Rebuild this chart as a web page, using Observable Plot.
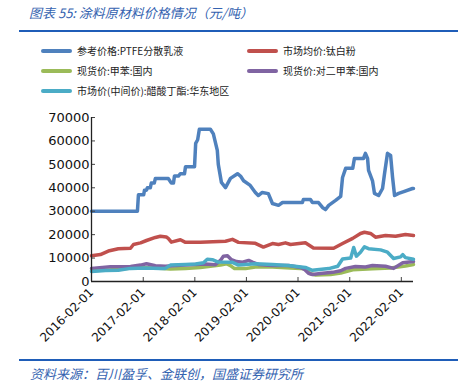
<!DOCTYPE html>
<html><head><meta charset="utf-8">
<script src="https://cdn.jsdelivr.net/npm/d3@7"></script>
<script src="https://cdn.jsdelivr.net/npm/@observablehq/plot@0.6"></script>
<style>
body{margin:0;background:#fff;}
#wrap{position:relative;width:462px;height:392px;overflow:hidden;background:#fff;font-family:"DejaVu Sans","Noto Sans CJK SC",sans-serif;}
.cap{position:absolute;font-family:"Noto Sans CJK SC",sans-serif;font-style:italic;color:#3563B0;font-size:13px;white-space:nowrap;line-height:1;}
.rule{position:absolute;left:19px;width:439px;height:2px;background:#1F5DB8;}
.lg{position:absolute;font-family:"Noto Sans CJK SC",sans-serif;font-size:10px;color:#222;white-space:nowrap;line-height:1;}
.sw{position:absolute;width:31px;height:3.5px;border-radius:2px;}
#chart{position:absolute;left:0;top:100px;}
</style></head>
<body><div id="wrap"><div id="chart"></div></div>
<script>
// ---- data ----
const seriesNames = ["参考价格:PTFE分散乳液","市场均价:钛白粉","现货价:甲苯:国内","现货价:对二甲苯:国内","市场价(中间价):醋酸丁酯:华东地区"];
const seriesColors = ["#4F81BD","#C0504D","#9BBB59","#8064A2","#4BACC6"];
const xTickLabels = ["2016-02-01","2017-02-01","2018-02-01","2019-02-01","2020-02-01","2021-02-01","2022-02-01"];
const yTickValues = [0,10000,20000,30000,40000,50000,60000,70000];
const xDomain = ["2016-02-01","2022-04-28"];

const ptfe = [
["2016-02-01",30000],["2016-12-22",30000],["2016-12-29",37000],["2017-02-04",37000],["2017-02-10",39000],
["2017-02-24",39000],["2017-03-02",40000],["2017-03-23",40000],["2017-03-30",42000],["2017-04-20",42000],
["2017-04-28",44000],["2017-07-28",44000],["2017-08-19",42000],["2017-09-03",42000],["2017-09-10",45000],
["2017-10-08",45000],["2017-10-22",46000],["2017-11-20",46000],["2017-11-27",49000],["2018-01-30",49000],
["2018-02-07",59000],["2018-02-21",60500],["2018-03-05",65000],["2018-05-22",65000],["2018-06-12",63000],
["2018-07-10",56000],["2018-07-17",50000],["2018-08-08",42300],["2018-09-06",40100],["2018-10-11",44000],
["2018-11-30",46000],["2018-12-21",45000],["2019-01-12",43000],["2019-02-28",41000],["2019-04-05",38000],
["2019-04-26",36700],["2019-05-24",38000],["2019-07-06",37500],["2019-08-04",33300],["2019-09-16",32500],
["2019-10-14",33700],["2020-03-03",33700],["2020-03-10",35000],["2020-04-29",35000],["2020-05-13",33700],
["2020-06-25",33700],["2020-07-23",31600],["2020-08-14",30700],["2020-09-05",32500],["2020-10-24",34600],
["2020-11-29",36300],["2020-12-12",44400],["2021-01-03",48300],["2021-02-22",48300],["2021-03-06",52500],
["2021-05-09",52500],["2021-05-23",54700],["2021-06-07",52500],["2021-06-14",47400],["2021-07-12",43000],
["2021-07-26",37600],["2021-08-24",36700],["2021-09-21",39700],["2021-10-05",46000],["2021-10-26",54700],
["2021-11-17",53800],["2021-12-01",44400],["2021-12-15",36700],["2022-01-13",37600],["2022-02-18",38400],
["2022-04-21",39700],["2022-04-28",39700]
];
const titanium = [
["2016-02-01",11000],["2016-04-04",11500],["2016-05-30",13000],["2016-08-09",14000],["2016-11-03",14200],
["2016-11-24",15800],["2017-01-13",16500],["2017-02-24",17500],["2017-04-28",18800],["2017-06-02",19300],
["2017-07-14",19000],["2017-07-28",18400],["2017-08-19",16800],["2017-10-08",17600],["2017-10-22",17800],
["2017-11-27",16700],["2018-03-12",16800],["2018-09-06",17200],["2018-10-25",18000],["2018-12-07",16700],
["2019-04-05",16300],["2019-06-01",14700],["2019-08-04",16200],["2019-09-16",15800],["2019-11-04",16500],
["2019-12-10",15800],["2020-03-24",16500],["2020-05-20",14300],["2020-10-10",14200],["2020-12-12",16200],
["2021-02-22",18400],["2021-04-18",20500],["2021-05-16",21000],["2021-06-28",20500],["2021-08-02",18900],
["2021-10-12",19600],["2021-12-22",19300],["2022-03-02",20100],["2022-04-28",19600]
];
const toluene = [
["2016-02-01",4600],["2016-06-14",5000],["2016-09-28",5600],["2017-01-13",6000],["2017-04-28",5800],
["2017-08-12",5300],["2017-11-27",5600],["2018-03-12",6000],["2018-05-22",6500],["2018-08-01",7000],
["2018-09-13",7600],["2018-10-11",6800],["2018-11-09",5500],["2019-01-26",5500],["2019-04-05",6200],
["2019-08-04",6200],["2019-12-10",5800],["2020-03-24",5400],["2020-04-29",3300],["2020-06-04",2800],
["2020-09-19",3000],["2020-11-29",3600],["2021-02-22",5000],["2021-07-12",5400],["2021-11-17",5800],
["2022-03-02",6600],["2022-04-28",7200]
];
const pxylene = [
["2016-02-01",5600],["2016-06-14",6300],["2016-11-03",6400],["2017-01-13",7000],["2017-02-24",7600],
["2017-04-28",6700],["2017-07-07",6500],["2017-10-22",6900],["2018-02-07",7300],["2018-04-17",7500],
["2018-06-26",7200],["2018-08-01",9000],["2018-08-22",10800],["2018-09-20",11000],["2018-10-18",9300],
["2018-11-23",8500],["2019-01-05",8200],["2019-02-17",9000],["2019-03-15",8300],["2019-04-26",7300],
["2019-08-04",6800],["2019-11-26",6800],["2020-02-19",6000],["2020-03-17",5200],["2020-04-15",3500],
["2020-05-13",3000],["2020-07-09",3400],["2020-10-03",3900],["2020-11-29",4600],["2021-01-03",5600],
["2021-03-13",6400],["2021-05-23",6200],["2021-07-12",6800],["2021-10-12",6500],["2021-12-08",5600],
["2022-02-11",8000],["2022-04-28",8500]
];
const butylAcetate = [
["2016-02-01",4300],["2016-05-09",4700],["2016-08-09",4800],["2016-11-03",5600],["2017-02-17",5800],
["2017-06-02",5500],["2017-07-07",5600],["2017-08-12",7000],["2017-11-27",7300],["2018-02-07",7500],
["2018-04-03",8000],["2018-04-30",9500],["2018-06-05",9300],["2018-07-17",8300],["2018-10-25",8200],
["2018-12-07",7000],["2019-04-05",7600],["2019-08-04",7300],["2019-11-26",6800],["2020-03-24",6000],
["2020-05-13",4800],["2020-09-05",5500],["2020-11-08",6500],["2020-12-12",9600],["2021-02-08",10000],
["2021-03-01",14500],["2021-03-20",10800],["2021-04-18",12500],["2021-05-16",14800],["2021-06-14",14000],
["2021-09-07",13500],["2021-10-26",12500],["2021-12-08",9800],["2022-01-27",10500],["2022-02-11",11500],
["2022-03-02",10200],["2022-04-28",9500]
];
const allSeries = [ptfe, titanium, toluene, pxylene, butylAcetate];

// ---- page text ----
const wrap = document.getElementById("wrap");
function add(cls, txt, css){const d=document.createElement("div");d.className=cls;if(txt)d.textContent=txt;Object.assign(d.style,css);wrap.appendChild(d);return d;}
add("cap","图表 55:  涂料原材料价格情况（元/吨）",{left:"29px",top:"6px"});
add("rule","",{top:"30px"});
add("rule","",{top:"359px"});
add("cap","资料来源：百川盈孚、金联创，国盛证券研究所",{left:"30px",top:"367px"});
const legPos = [[41,51],[247,51],[41,71],[247,71],[41,91]];
seriesNames.forEach((n,i)=>{
  const [lx,ly]=legPos[i];
  add("sw","",{left:lx+"px",top:(ly-1.75)+"px",background:seriesColors[i]});
  add("lg",n,{left:(lx+36)+"px",top:(ly-5.5)+"px"});
});

// ---- chart ----
const parse = d3.utcParse("%Y-%m-%d");
const xTicks = xTickLabels.map(parse);
const W=462,H=260,mt=17,mb=79,ml=91,mr=49;
const marks = [];
allSeries.forEach((s,i)=>{
  marks.push(Plot.line(s,{x:d=>parse(d[0]),y:d=>d[1],stroke:seriesColors[i],strokeWidth:3.5,strokeLinejoin:"round",strokeLinecap:"round"}));
});
marks.push(
  Plot.tickX(xTicks.slice(1),{x:d=>d,insetTop:(H-mt-mb)-4,stroke:"#444"}),
  Plot.tickY(yTickValues.slice(1),{y:d=>d,insetRight:(W-ml-mr)-4,stroke:"#444"}),
  Plot.ruleY([0],{stroke:"#222",strokeWidth:1.3}),
  Plot.ruleX([parse(xDomain[0])],{stroke:"#222",strokeWidth:1.3}),
  Plot.axisY({ticks:yTickValues,tickSize:0,tickPadding:2,fontSize:13,tickFormat:d=>String(d),fill:"#111"}),
  Plot.axisX({ticks:xTicks,tickSize:0,tickPadding:9,tickRotate:-45,fontSize:12,tickFormat:d3.utcFormat("%Y-%m-%d"),fill:"#111"})
);
const chart = Plot.plot({
  width:W,height:H,marginTop:mt,marginBottom:mb,marginLeft:ml,marginRight:mr,
  style:{fontFamily:"DejaVu Sans",background:"#fff",overflow:"visible"},
  x:{type:"utc",domain:xDomain.map(parse),label:null},
  y:{domain:[0,70000],label:null},
  marks
});
document.getElementById("chart").appendChild(chart);
</script></body></html>
